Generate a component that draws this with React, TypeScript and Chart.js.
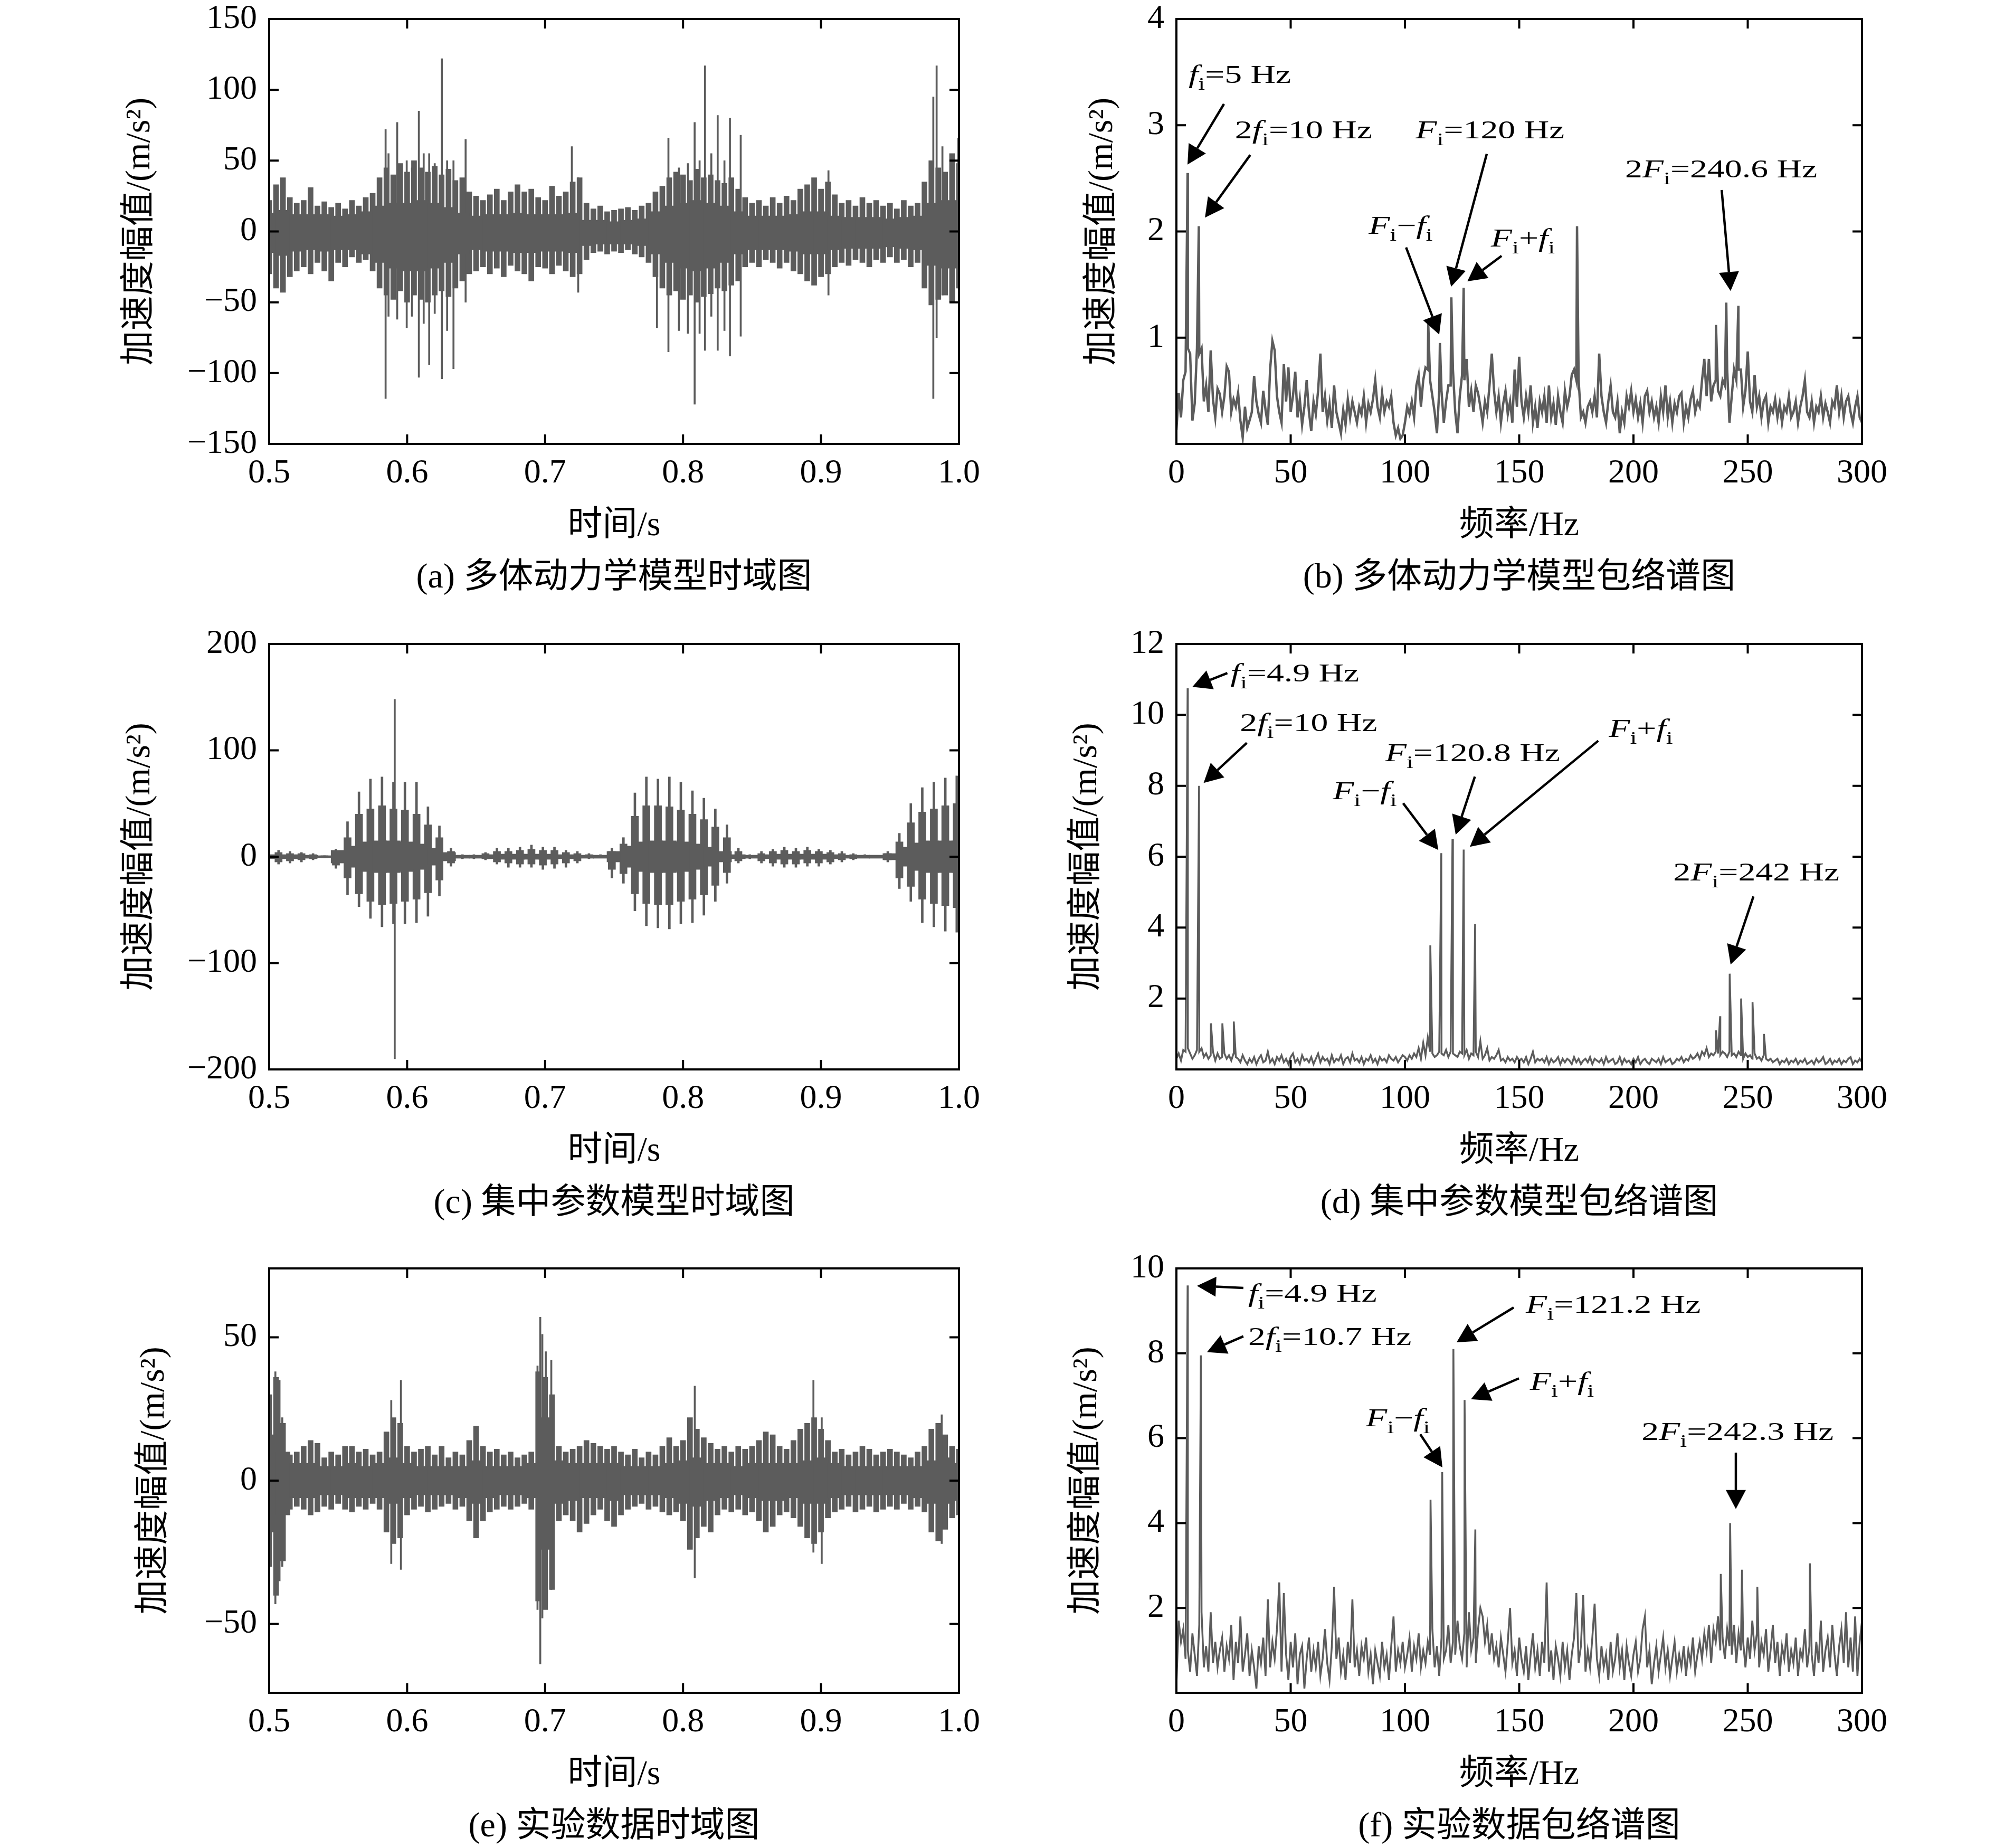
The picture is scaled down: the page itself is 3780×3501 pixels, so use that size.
import React, { useEffect, useRef } from 'react';
import { Chart, registerables } from 'chart.js';

Chart.register(...registerables);

const FONT = '"Liberation Serif", "Times New Roman", "Noto Sans CJK SC", serif';
const INK = '#000000';
const GRAY = '#5c5c5c';

const CELL_W = 1890;
const CELL_H = 1167;
const X_AXIS_H = 195;

// ---------------- tick label lists ----------------
const timeTicks = [0.5, 0.6, 0.7, 0.8, 0.9, 1.0];
const freqTicks = [0, 50, 100, 150, 200, 250, 300];
const aYTicks = [-150, -100, -50, 0, 50, 100, 150];
const bYTicks = [1, 2, 3, 4];
const cYTicks = [-200, -100, 0, 100, 200];
const dYTicks = [2, 4, 6, 8, 10, 12];
const eYTicks = [-50, 0, 50];
const fYTicks = [2, 4, 6, 8, 10];

// ---------------- sampling grids of the time envelopes ----------------
const ENV_T0 = 0.5;
const ENV_DT = 0.005;
const CORE_T0 = 0.5;
const CORE_DT = 0.01;

// ---------------- (a) multibody model, time domain ----------------
// outer envelope (column tops) every 5 ms
const aUpper = [
  22, 33, 38, 24, 20, 22, 31, 18, 21, 17,
  20, 16, 22, 18, 24, 27, 38, 45, 40, 48,
  42, 50, 45, 42, 46, 40, 44, 36, 38, 28,
  25, 22, 26, 30, 22, 28, 33, 28, 30, 24,
  22, 32, 25, 28, 35, 38, 20, 16, 18, 14,
  15, 16, 17, 15, 18, 20, 28, 32, 38, 42,
  40, 36, 44, 38, 40, 36, 34, 38, 30, 24,
  20, 22, 18, 24, 20, 25, 22, 30, 33, 38,
  30, 35, 26, 20, 22, 18, 24, 20, 22, 18,
  20, 16, 22, 18, 20, 35, 50, 45, 42, 55,
  48,
];
const aLower = [
  -30, -40, -43, -32, -28, -25, -30, -22, -28, -35,
  -22, -25, -18, -22, -20, -28, -40, -45, -48, -42,
  -50, -45, -48, -50, -45, -42, -46, -40, -35, -30,
  -28, -25, -30, -26, -32, -24, -28, -30, -35, -25,
  -26, -30, -24, -28, -32, -30, -20, -15, -14, -16,
  -14, -15, -13, -16, -18, -22, -32, -40, -45, -42,
  -48, -45, -50, -46, -44, -40, -42, -38, -35, -25,
  -22, -25, -20, -22, -26, -22, -28, -30, -35, -38,
  -32, -30, -25, -22, -24, -20, -22, -25, -20, -22,
  -18, -22, -20, -25, -22, -40, -52, -48, -45, -50,
  -40,
];
// dense solid core every 10 ms
const aCoreHi = [
  13, 15, 12, 12, 12, 11, 12, 14, 18, 20, 20, 22, 20, 17, 13, 11, 12, 12, 13, 12,
  12, 12, 13, 8, 8, 7, 8, 9, 14, 18, 20, 22, 20, 18, 14, 11, 11, 11, 12, 14,
  14, 11, 10, 10, 10, 9, 10, 11, 20, 22, 22,
];
const aCoreLo = [
  -15, -17, -14, -13, -14, -13, -13, -16, -22, -26, -28, -28, -26, -22, -16, -13, -14, -14, -15, -15,
  -14, -14, -15, -10, -9, -9, -9, -10, -16, -22, -26, -28, -26, -22, -16, -13, -13, -13, -14, -16,
  -16, -13, -12, -12, -12, -11, -12, -13, -24, -26, -26,
];
const aSpikeT = [
  0.5844, 0.5865, 0.5928, 0.5997, 0.6035, 0.6085, 0.612, 0.616, 0.62, 0.6252, 0.629, 0.6336, 0.6424,
  0.7194, 0.724, 0.7811, 0.7894, 0.797, 0.8035, 0.8084, 0.812, 0.8159, 0.8205, 0.8251, 0.83, 0.834,
  0.8418, 0.9054, 0.9814, 0.9838, 0.988, 0.995, 0.9995,
];
const aSpikeHi = [72, 55, 77, 50, 45, 85, 55, 55, 48, 122, 50, 50, 65, 60, 38, 26, 66, 45, 48, 77, 50, 117, 55, 82, 50, 80, 68, 43, 95, 117, 60, 48, 66];
const aSpikeLo = [-118, -60, -62, -68, -60, -103, -65, -94, -58, -104, -70, -97, -50, -30, -43, -68, -85, -70, -72, -122, -72, -84, -60, -84, -70, -88, -74, -45, -118, -75, -45, -40, -40];

// ---------------- (b) multibody model, envelope spectrum (1 Hz grid from 0 Hz) ----------------
const bNoise = [
  0.13, 0.48, 0.25, 0.6, 0.68, 0.9, 0.85, 0.22, 0.38, 0.9,
  0.85, 0.9, 0.4, 0.55, 0.3, 0.88, 0.42, 0.25, 0.52, 0.47,
  0.3, 0.45, 0.73, 0.68, 0.3, 0.42, 0.35, 0.48, 0.22, 0.06,
  0.35, 0.15, 0.22, 0.3, 0.64, 0.4, 0.28, 0.2, 0.5, 0.32,
  0.18, 0.7, 0.97, 0.88, 0.45, 0.3, 0.2, 0.75, 0.4, 0.72,
  0.3, 0.45, 0.68, 0.25, 0.42, 0.18, 0.35, 0.6, 0.3, 0.12,
  0.4, 0.28, 0.5, 0.85, 0.3, 0.45, 0.22, 0.38, 0.15, 0.55,
  0.3, 0.2, 0.1, 0.32, 0.18, 0.42, 0.25, 0.4, 0.3, 0.2,
  0.35, 0.28, 0.45, 0.2, 0.38, 0.3, 0.42, 0.6, 0.35, 0.25,
  0.48, 0.3, 0.4, 0.35, 0.45, 0.2, 0.08, 0.15, 0.05, 0.08,
  0.2, 0.35, 0.28, 0.4, 0.25, 0.55, 0.65, 0.35, 0.6, 0.72,
  0.7, 0.6, 0.45, 0.3, 0.1, 0.5, 0.5, 0.2, 0.4, 0.55,
  0.55, 0.7, 0.3, 0.1, 0.45, 0.65, 0.6, 0.8, 0.35, 0.5,
  0.3, 0.55, 0.48, 0.35, 0.2, 0.4, 0.3, 0.55, 0.85, 0.5,
  0.3, 0.45, 0.2, 0.38, 0.5, 0.28, 0.4, 0.2, 0.7, 0.35,
  0.82, 0.4, 0.25, 0.45, 0.3, 0.55, 0.2, 0.35, 0.15, 0.4,
  0.3, 0.45, 0.2, 0.55, 0.25, 0.38, 0.18, 0.45, 0.3, 0.2,
  0.5, 0.35, 0.45, 0.65, 0.7, 0.6, 0.6, 0.25, 0.3, 0.2,
  0.35, 0.4, 0.3, 0.45, 0.25, 0.85, 0.45, 0.3, 0.2, 0.4,
  0.55, 0.3, 0.25, 0.4, 0.1, 0.3, 0.2, 0.45, 0.35, 0.5,
  0.3, 0.42, 0.25, 0.38, 0.2, 0.45, 0.5, 0.3, 0.4, 0.25,
  0.35, 0.2, 0.45, 0.3, 0.55, 0.25, 0.4, 0.2, 0.38, 0.3,
  0.45, 0.48, 0.2, 0.35, 0.25, 0.42, 0.5, 0.3, 0.4, 0.35,
  0.6, 0.8, 0.45, 0.8, 0.4, 0.55, 0.6, 0.5, 0.45, 0.6,
  0.55, 0.7, 0.2, 0.45, 0.7, 0.6, 0.7, 0.7, 0.35, 0.5,
  0.87, 0.4, 0.3, 0.65, 0.35, 0.45, 0.25, 0.4, 0.45, 0.2,
  0.35, 0.3, 0.42, 0.25, 0.38, 0.2, 0.35, 0.3, 0.45, 0.25,
  0.3, 0.4, 0.2, 0.35, 0.45, 0.6, 0.3, 0.25, 0.4, 0.2,
  0.35, 0.3, 0.45, 0.25, 0.38, 0.3, 0.2, 0.4, 0.35, 0.55,
  0.3, 0.45, 0.25, 0.4, 0.45, 0.3, 0.2, 0.35, 0.45, 0.25,
  0.2,
];
const bPeakHz = [4.9, 9.8, 110.2, 115.3, 120.3, 125.7, 175.3, 236.1, 240.6, 245.9];
const bPeakAmp = [2.55, 2.05, 1.13, 0.95, 1.38, 1.47, 2.05, 1.12, 1.33, 1.3];

// ---------------- (c) lumped-parameter model, time domain ----------------
const cImpT = [
  0.5068, 0.5151, 0.5234, 0.5318, 0.5401, 0.5484, 0.5568, 0.5651, 0.5734, 0.5818, 0.5901, 0.5984,
  0.6068, 0.6151, 0.6234, 0.6318, 0.6401, 0.6484, 0.6568, 0.6651, 0.6734, 0.6818, 0.6901, 0.6984,
  0.7068, 0.7151, 0.7234, 0.7318, 0.7401, 0.7484, 0.7568, 0.7651, 0.7734, 0.7818, 0.7901, 0.7984,
  0.8068, 0.8151, 0.8234, 0.8318, 0.8401, 0.8484, 0.8568, 0.8651, 0.8734, 0.8818, 0.8901, 0.8984,
  0.9068, 0.9151, 0.9234, 0.9318, 0.9401, 0.9484, 0.9568, 0.9651, 0.9734, 0.9818, 0.9901, 0.9984,
];
const cImpHi = [
  6, 5, 4, 3, 1, 7, 33, 61, 73, 75, 70, 70,
  70, 47, 29, 8, 2, 2, 4, 8, 8, 9, 11, 9,
  9, 6, 5, 3, 2, 8, 18, 60, 75, 73, 75, 70,
  62, 55, 45, 30, 8, 2, 5, 7, 9, 8, 9, 7,
  6, 5, 3, 2, 1, 5, 22, 50, 65, 70, 74, 76,
];
const cImpLo = [
  -7, -6, -5, -3, -1, -11, -36, -47, -58, -66, -63, -63,
  -62, -56, -37, -9, -2, -2, -3, -7, -10, -10, -10, -12,
  -11, -10, -6, -2, -1, -20, -25, -51, -65, -67, -68, -63,
  -62, -55, -42, -25, -6, -2, -6, -9, -10, -10, -9, -9,
  -7, -5, -3, -1, -1, -5, -30, -42, -62, -66, -70, -71,
];
const cBodyHi = [
  4, 3, 3, 2, 1, 5, 18, 40, 45, 48, 45, 44,
  40, 30, 18, 5, 1, 1, 3, 5, 5, 6, 7, 6,
  6, 4, 3, 2, 1, 5, 12, 38, 48, 48, 47, 44,
  40, 35, 28, 18, 5, 1, 3, 5, 6, 5, 6, 5,
  4, 3, 2, 1, 1, 3, 14, 32, 42, 45, 48, 50,
];
const cBodyLo = [
  -5, -4, -3, -2, -1, -8, -20, -35, -42, -45, -44, -42,
  -40, -34, -22, -6, -1, -1, -2, -5, -6, -7, -7, -8,
  -7, -6, -4, -1, -1, -12, -16, -35, -44, -45, -45, -42,
  -40, -36, -27, -15, -4, -1, -4, -6, -7, -7, -6, -6,
  -5, -3, -2, -1, -1, -3, -20, -28, -40, -44, -46, -48,
];
const cCoreHi = [
  2, 2, 2, 1.5, 1, 6, 10, 14, 15, 15, 14, 12, 8, 4, 1.5, 1.5, 2, 2.5, 2.5, 2.5,
  2.5, 2, 2, 1.5, 1.5, 5, 10, 14, 15, 15, 14, 12, 9, 5, 2, 1.5, 2, 2.5, 2.5, 2.5,
  2.5, 2, 1.5, 1.5, 1.5, 3, 9, 13, 15, 15, 15,
];
const cCoreLo = [
  -2, -2, -2, -1.5, -1, -6, -10, -14, -15, -15, -14, -12, -8, -4, -1.5, -1.5, -2, -2.5, -2.5, -2.5,
  -2.5, -2, -2, -1.5, -1.5, -5, -10, -14, -15, -15, -14, -12, -9, -5, -2, -1.5, -2, -2.5, -2.5, -2.5,
  -2.5, -2, -1.5, -1.5, -1.5, -3, -9, -13, -15, -15, -15,
];
const cSpikeT = [0.591];
const cSpikeHi = [148];
const cSpikeLo = [-190];

// ---------------- (d) lumped-parameter model, envelope spectrum ----------------
const dNoise = [
  0.3, 0.45, 0.25, 0.55, 0.5, 0.6, 0.45, 0.3, 0.4, 0.55,
  0.5, 0.6, 0.35, 0.45, 0.3, 0.4, 0.5, 0.25, 0.45, 0.3,
  0.35, 0.45, 0.3, 0.4, 0.25, 0.45, 0.35, 0.3, 0.2, 0.4,
  0.25, 0.15, 0.3, 0.2, 0.35, 0.15, 0.3, 0.4, 0.2, 0.25,
  0.5, 0.2, 0.3, 0.15, 0.35, 0.25, 0.4, 0.2, 0.3, 0.15,
  0.35, 0.45, 0.2, 0.3, 0.15, 0.4, 0.25, 0.3, 0.2, 0.35,
  0.15, 0.3, 0.45, 0.2, 0.35, 0.25, 0.3, 0.15, 0.4, 0.2,
  0.3, 0.25, 0.4, 0.15, 0.3, 0.35, 0.2, 0.45, 0.25, 0.3,
  0.2, 0.35, 0.15, 0.3, 0.25, 0.4, 0.2, 0.3, 0.15, 0.35,
  0.25, 0.3, 0.2, 0.4, 0.3, 0.25, 0.35, 0.2, 0.3, 0.4,
  0.35, 0.25, 0.4, 0.3, 0.45, 0.35, 0.6, 0.3, 0.75, 0.4,
  0.9, 0.5, 0.45, 0.35, 0.4, 0.5, 0.45, 0.4, 0.55, 0.35,
  0.5, 0.45, 0.4, 0.35, 0.5, 0.45, 0.4, 0.55, 0.3, 0.45,
  0.4, 0.5, 0.35, 0.8, 0.3, 0.4, 0.6, 0.25, 0.35, 0.3,
  0.4, 0.55, 0.25, 0.3, 0.2, 0.35, 0.25, 0.3, 0.2, 0.35,
  0.25, 0.3, 0.2, 0.35, 0.15, 0.3, 0.5, 0.2, 0.3, 0.25,
  0.3, 0.2, 0.35, 0.15, 0.3, 0.2, 0.25, 0.35, 0.15, 0.3,
  0.2, 0.3, 0.25, 0.15, 0.35, 0.2, 0.3, 0.15, 0.25, 0.3,
  0.2, 0.35, 0.15, 0.3, 0.25, 0.2, 0.3, 0.15, 0.35, 0.2,
  0.25, 0.3, 0.15, 0.2, 0.35, 0.15, 0.3, 0.2, 0.25, 0.15,
  0.3, 0.2, 0.35, 0.15, 0.25, 0.3, 0.2, 0.15, 0.3, 0.25,
  0.2, 0.3, 0.15, 0.35, 0.2, 0.25, 0.3, 0.15, 0.2, 0.3,
  0.25, 0.35, 0.2, 0.3, 0.25, 0.4, 0.3, 0.35, 0.45, 0.3,
  0.5, 0.4, 0.6, 0.35, 0.45, 0.4, 0.5, 0.45, 0.4, 0.5,
  0.45, 0.35, 0.5, 0.4, 0.45, 0.35, 0.5, 0.4, 0.3, 0.45,
  0.35, 0.4, 0.3, 0.45, 0.3, 0.35, 0.25, 0.4, 0.3, 0.25,
  0.3, 0.2, 0.25, 0.3, 0.15, 0.25, 0.2, 0.3, 0.15, 0.25,
  0.2, 0.3, 0.15, 0.25, 0.2, 0.3, 0.15, 0.2, 0.25, 0.15,
  0.3, 0.2, 0.25, 0.35, 0.15, 0.2, 0.3, 0.15, 0.25, 0.2,
  0.3, 0.15, 0.25, 0.2, 0.3, 0.35, 0.15, 0.25, 0.2, 0.3,
  0.2,
];
const dPeakHz = [4.9, 9.9, 15.1, 20.1, 25.1, 111.1, 115.9, 120.8, 125.7, 130.7, 236.1, 237.9, 242.1, 247.1, 252.1, 257.1];
const dPeakAmp = [10.75, 8.0, 1.3, 1.3, 1.35, 3.5, 6.1, 6.5, 6.2, 4.1, 1.1, 1.5, 2.7, 2.0, 1.9, 1.0];

// ---------------- (e) experiment, time domain ----------------
const eUpper = [
  30, 36, 20, 9, 10, 12, 14, 13, 8, 10,
  9, 12, 12, 10, 11, 9, 10, 17, 22, 20,
  12, 10, 11, 12, 9, 12, 8, 10, 9, 14,
  19, 12, 10, 11, 9, 10, 8, 9, 10, 38,
  36, 30, 12, 10, 11, 12, 14, 13, 12, 11,
  12, 10, 9, 11, 8, 10, 9, 12, 15, 12,
  14, 22, 18, 15, 13, 11, 12, 10, 12, 11,
  12, 14, 17, 16, 12, 11, 14, 18, 20, 22,
  18, 14, 10, 11, 9, 10, 12, 11, 9, 10,
  11, 10, 9, 8, 10, 12, 18, 20, 16, 12,
  11,
];
const eLower = [
  -30, -40, -28, -10, -9, -10, -12, -11, -9, -10,
  -8, -10, -11, -9, -10, -8, -10, -18, -22, -20,
  -12, -10, -9, -11, -10, -9, -8, -10, -9, -14,
  -20, -14, -11, -10, -9, -10, -9, -8, -10, -42,
  -45, -38, -14, -12, -14, -18, -15, -12, -10, -14,
  -16, -12, -10, -9, -8, -10, -9, -11, -12, -11,
  -14, -24, -20, -16, -18, -12, -10, -11, -10, -12,
  -11, -14, -18, -16, -12, -11, -13, -16, -20, -22,
  -18, -13, -11, -10, -9, -11, -10, -9, -11, -10,
  -9, -10, -8, -10, -9, -11, -18, -21, -17, -13,
  -12,
];
const eCoreHi = [
  16, 10, 6, 6, 5, 5, 6, 5, 6, 8, 6, 5, 5, 5, 5, 7, 5, 5, 5, 6,
  22, 7, 6, 6, 6, 6, 5, 5, 5, 6, 7, 8, 6, 6, 5, 6, 6, 6, 6, 7,
  8, 6, 5, 5, 5, 5, 5, 5, 7, 8, 6,
];
const eCoreLo = [
  -18, -12, -6, -6, -5, -5, -6, -6, -6, -8, -6, -5, -5, -5, -6, -8, -6, -5, -5, -6,
  -24, -8, -7, -6, -6, -7, -5, -5, -5, -6, -8, -9, -7, -6, -5, -6, -7, -7, -6, -8,
  -8, -6, -5, -5, -5, -5, -5, -6, -8, -8, -7,
];
const eSpikeT = [0.5045, 0.5075, 0.5095, 0.5885, 0.5955, 0.6495, 0.6945, 0.6965, 0.698, 0.7005, 0.7045, 0.8085, 0.8945, 0.9005, 0.9875];
const eSpikeHi = [38, 35, 22, 28, 35, 18, 40, 57, 51, 45, 42, 33, 35, 22, 23];
const eSpikeLo = [-43, -35, -30, -29, -31, -20, -45, -64, -48, -40, -38, -34, -25, -29, -22];

// ---------------- (f) experiment, envelope spectrum ----------------
const fNoise = [
  0.2, 1.7, 1.2, 1.5, 0.8, 1.0, 0.5, 1.4, 0.9, 0.4,
  1.6, 1.9, 0.6, 1.1, 0.5, 1.9, 0.7, 1.2, 0.6, 1.0,
  1.3, 0.5, 1.1, 0.8, 1.6, 0.3, 1.2, 0.7, 1.8, 0.5,
  0.9, 1.4, 0.4, 1.0, 0.6, 0.1, 1.1, 0.7, 1.3, 0.4,
  2.2, 0.6, 1.2, 0.8, 1.5, 2.6, 0.5, 2.35, 0.9, 0.3,
  1.2, 0.6, 1.4, 0.2, 0.9, 1.1, 0.1, 0.8, 1.3, 0.5,
  1.0, 0.6, 1.2, 0.4, 0.8, 1.5, 0.7, 0.3, 1.1, 2.5,
  0.8, 1.3, 0.5, 0.9, 0.3, 1.2, 0.7, 2.2, 0.6, 1.0,
  0.4, 1.1, 0.8, 1.3, 0.5, 0.9, 0.2, 1.0, 0.7, 0.4,
  1.2, 0.6, 0.9, 0.3, 1.1, 1.8, 0.5, 1.0, 0.7, 1.2,
  0.6, 0.9, 1.3, 0.5, 1.1, 0.8, 1.4, 0.6, 1.0, 0.7,
  1.2, 0.9, 1.5, 0.6, 1.1, 0.4, 1.3, 0.8, 1.0, 1.6,
  0.7, 1.2, 0.9, 1.7, 1.1, 0.8, 1.4, 0.6, 1.9, 1.0,
  1.3, 0.7, 1.5, 2.0, 1.8, 1.2, 1.6, 0.9, 1.4, 0.8,
  1.1, 0.6, 1.3, 0.9, 0.5, 1.2, 2.0, 0.7, 1.0, 0.4,
  1.3, 0.8, 0.5, 1.1, 0.3, 0.9, 1.4, 0.6, 1.0, 0.4,
  1.2, 0.7, 2.6, 0.5, 1.0, 0.3, 1.1, 0.8, 0.4, 1.2,
  0.6, 1.0, 0.3, 0.9, 1.3, 2.35, 0.7, 1.1, 2.3, 0.5,
  1.0, 0.6, 1.3, 2.1, 0.8, 0.4, 1.1, 0.6, 0.9, 0.3,
  1.2, 0.5, 0.8, 1.4, 0.6, 1.0, 0.3, 1.1, 0.7, 0.4,
  0.9, 1.2, 0.5, 0.8, 1.5, 1.8, 0.6, 1.0, 0.2, 0.7,
  1.1, 0.5, 0.9, 1.3, 0.6, 1.0, 0.4, 0.8, 1.2, 0.5,
  0.9, 0.6, 1.1, 0.4, 1.0, 0.7, 1.3, 0.5, 0.9, 1.2,
  0.8, 1.4, 1.0, 1.6, 0.7, 1.5, 1.2, 1.8, 1.0, 1.3,
  0.8, 1.5, 1.1, 0.9, 1.6, 0.7, 1.4, 1.0, 1.2, 0.6,
  1.3, 0.8, 1.7, 1.0, 1.4, 0.6, 1.2, 0.9, 1.5, 0.5,
  1.0, 1.6, 0.7, 1.2, 0.4, 1.1, 0.8, 1.4, 0.5, 1.0,
  0.7, 1.3, 0.4, 1.0, 0.8, 1.5, 0.6, 1.1, 0.9, 0.4,
  1.2, 0.7, 1.7, 0.5, 1.0, 1.3, 0.6, 1.6, 0.9, 0.4,
  1.1, 1.5, 0.7, 1.9, 0.6, 1.3, 0.5, 1.8, 0.4, 1.2,
  1.7,
];
const fPeakHz = [4.9, 10.7, 111.2, 116.3, 121.2, 126.1, 130.8, 238.2, 242.3, 247.5, 254.2, 277.2];
const fPeakAmp = [9.6, 7.95, 4.55, 5.2, 8.1, 6.9, 3.85, 2.8, 4.0, 2.9, 2.5, 3.05];

// ---------------- annotations (placed in data coordinates) ----------------
type Anno = { label: string; at: [number, number]; from: [number, number]; to: [number, number] };

const bAnnos: Anno[] = [
  { label: '$f$_i=5 Hz', at: [5.3, 3.4], from: [20.8, 3.2], to: [4.85, 2.63] },
  { label: '2$f$_i=10 Hz', at: [25.6, 2.876], from: [32.3, 2.72], to: [12.5, 2.13] },
  { label: '$F$_i=120 Hz', at: [104.7, 2.875], from: [135.8, 2.73], to: [120.2, 1.48] },
  { label: '$F$_i\u2212$f$_i', at: [84.1, 1.98], from: [100.5, 1.85], to: [115.0, 1.03] },
  { label: '$F$_i+$f$_i', at: [137.6, 1.86], from: [142.3, 1.77], to: [127.3, 1.53] },
  { label: '2$F$_i=240.6 Hz', at: [196.3, 2.51], from: [238.6, 2.39], to: [242.5, 1.44] },
];
const dAnnos: Anno[] = [
  { label: '$f$_i=4.9 Hz', at: [23.7, 10.95], from: [22.3, 11.18], to: [7.0, 10.79] },
  { label: '2$f$_i=10 Hz', at: [27.8, 9.55], from: [30.8, 9.21], to: [11.9, 8.08] },
  { label: '$F$_i=120.8 Hz', at: [91.4, 8.7], from: [130.6, 8.26], to: [122.2, 6.62] },
  { label: '$F$_i\u2212$f$_i', at: [68.4, 7.63], from: [99.2, 7.51], to: [114.6, 6.19] },
  { label: '$F$_i+$f$_i', at: [189.2, 9.38], from: [184.6, 9.27], to: [128.4, 6.28] },
  { label: '2$F$_i=242 Hz', at: [217.4, 5.33], from: [252.5, 4.88], to: [242.5, 2.96] },
];
const fAnnos: Anno[] = [
  { label: '$f$_i=4.9 Hz', at: [31.4, 9.22], from: [29.3, 9.54], to: [9.0, 9.59] },
  { label: '2$f$_i=10.7 Hz', at: [31.4, 8.2], from: [29.3, 8.4], to: [13.4, 8.03] },
  { label: '$F$_i=121.2 Hz', at: [152.9, 8.95], from: [147.6, 9.08], to: [122.6, 8.26] },
  { label: '$F$_i+$f$_i', at: [154.7, 7.14], from: [149.9, 7.41], to: [128.9, 6.92] },
  { label: '$F$_i\u2212$f$_i', at: [82.9, 6.28], from: [106.7, 6.09], to: [116.4, 5.31] },
  { label: '2$F$_i=242.3 Hz', at: [203.5, 5.96], from: [244.8, 5.66], to: [244.8, 4.33] },
];

// ---------------- helpers building datasets from the arrays ----------------
function gridBars(t0: number, dt: number, hi: number[], lo: number[]) {
  return hi.map((h, i) => ({ x: t0 + i * dt, y: [lo[i], h] }));
}
function listBars(ts: number[], hi: number[], lo: number[]) {
  return ts.map((t, i) => ({ x: t, y: [lo[i], hi[i]] }));
}
function spectrumPoints(noise: number[], peakHz: number[], peakAmp: number[]) {
  const pts = noise.map((v, i) => ({ x: i, y: v }));
  peakHz.forEach((f, k) => pts.push({ x: f, y: peakAmp[k] }));
  pts.sort((p, q) => p.x - q.x);
  return pts;
}
function barSet(data: any[], thickness: number) {
  return { type: 'bar', data, backgroundColor: GRAY, borderWidth: 0, barThickness: thickness, grouped: false };
}
function lineSet(data: any[], width: number) {
  return { type: 'line', data, borderColor: GRAY, borderWidth: width, pointRadius: 0, tension: 0, fill: false, borderJoinStyle: 'miter' };
}

// ---------------- drawing plugins ----------------
function drawRich(ctx: CanvasRenderingContext2D, s: string, x: number, y: number) {
  const size = 48;
  const sub = 34;
  ctx.save();
  ctx.translate(x, y);
  ctx.scale(1.37, 1);
  ctx.fillStyle = INK;
  ctx.textBaseline = 'alphabetic';
  ctx.textAlign = 'left';
  let cx = 0;
  let italic = false;
  for (let i = 0; i < s.length; i++) {
    const ch = s[i];
    if (ch === '$') { italic = !italic; continue; }
    if (ch === '_') {
      const c = s[++i];
      ctx.font = `${sub}px ${FONT}`;
      ctx.fillText(c, cx, 13);
      cx += ctx.measureText(c).width;
      continue;
    }
    ctx.font = `${italic ? 'italic ' : ''}${size}px ${FONT}`;
    ctx.fillText(ch, cx, 0);
    cx += ctx.measureText(ch).width;
  }
  ctx.restore();
}

function drawArrow(ctx: CanvasRenderingContext2D, x1: number, y1: number, x2: number, y2: number) {
  const ang = Math.atan2(y2 - y1, x2 - x1);
  const L = 36;
  const W = 19;
  const bx = x2 - L * Math.cos(ang);
  const by = y2 - L * Math.sin(ang);
  ctx.lineWidth = 4.5;
  ctx.beginPath();
  ctx.moveTo(x1, y1);
  ctx.lineTo(bx, by);
  ctx.stroke();
  ctx.beginPath();
  ctx.moveTo(x2, y2);
  ctx.lineTo(bx + W * Math.sin(ang), by - W * Math.cos(ang));
  ctx.lineTo(bx - W * Math.sin(ang), by + W * Math.cos(ang));
  ctx.closePath();
  ctx.fill();
}

const frameTicksPlugin = {
  id: 'frameTicks',
  afterDatasetsDraw(chart: any) {
    const { ctx, chartArea: a } = chart;
    const xs = chart.scales.x;
    const ys = chart.scales.y;
    const L = 18;
    ctx.save();
    ctx.strokeStyle = INK;
    ctx.lineWidth = 4;
    ctx.beginPath();
    xs.ticks.forEach((t: any) => {
      const p = xs.getPixelForValue(t.value);
      ctx.moveTo(p, a.bottom); ctx.lineTo(p, a.bottom - L);
      ctx.moveTo(p, a.top); ctx.lineTo(p, a.top + L);
    });
    ys.ticks.forEach((t: any) => {
      const p = ys.getPixelForValue(t.value);
      ctx.moveTo(a.left, p); ctx.lineTo(a.left + L, p);
      ctx.moveTo(a.right, p); ctx.lineTo(a.right - L, p);
    });
    ctx.stroke();
    ctx.strokeRect(a.left, a.top, a.right - a.left, a.bottom - a.top);
    ctx.restore();
  },
};

const annoPlugin = {
  id: 'annos',
  afterDraw(chart: any, _args: any, opts: any) {
    const items: Anno[] = (opts && opts.items) || [];
    if (!items.length) return;
    const { ctx } = chart;
    const xs = chart.scales.x;
    const ys = chart.scales.y;
    ctx.save();
    ctx.strokeStyle = INK;
    ctx.fillStyle = INK;
    items.forEach((it) => {
      drawArrow(ctx, xs.getPixelForValue(it.from[0]), ys.getPixelForValue(it.from[1]), xs.getPixelForValue(it.to[0]), ys.getPixelForValue(it.to[1]));
      drawRich(ctx, it.label, xs.getPixelForValue(it.at[0]), ys.getPixelForValue(it.at[1]));
    });
    ctx.restore();
  },
};

const captionPlugin = {
  id: 'caption',
  afterDraw(chart: any, _args: any, opts: any) {
    if (!opts || !opts.text) return;
    const { ctx, chartArea: a } = chart;
    ctx.save();
    ctx.fillStyle = INK;
    ctx.font = `66px ${FONT}`;
    ctx.textAlign = 'center';
    ctx.textBaseline = 'middle';
    ctx.fillText(opts.text, (a.left + a.right) / 2, a.bottom + 255);
    ctx.restore();
  },
};

// ---------------- config builder ----------------
type Geo = { plotL: number; plotR: number; plotT: number; plotB: number; yTitleCenter: number };

function minusFmt(v: number) {
  return String(v).replace('-', '\u2212');
}

function makeConfig(o: {
  geo: Geo; datasets: any[]; xMin: number; xMax: number; xTicks: number[]; xFmt: (v: number) => string;
  xTitle: string; yMin: number; yMax: number; yTicks: number[]; caption: string; annos: Anno[];
}) {
  const g = o.geo;
  return {
    type: 'line',
    data: { datasets: o.datasets },
    options: {
      responsive: false,
      animation: false,
      events: [],
      layout: { padding: { left: 0, top: g.plotT, right: CELL_W - g.plotR, bottom: CELL_H - g.plotB - X_AXIS_H } },
      plugins: {
        legend: { display: false },
        tooltip: { enabled: false },
        title: { display: false },
        annos: { items: o.annos },
        caption: { text: o.caption },
      },
      scales: {
        x: {
          type: 'linear',
          min: o.xMin,
          max: o.xMax,
          offset: false,
          grid: { display: false, drawTicks: false },
          border: { display: false },
          afterBuildTicks: (s: any) => { s.ticks = o.xTicks.map((v) => ({ value: v })); },
          afterFit: (s: any) => { s.height = X_AXIS_H; s.paddingLeft = 0; s.paddingRight = 0; },
          ticks: {
            color: INK, font: { family: FONT, size: 64 }, padding: 18, maxRotation: 0, minRotation: 0, autoSkip: false,
            callback: (v: any) => o.xFmt(Number(v)),
          },
          title: { display: true, text: o.xTitle, color: INK, font: { family: FONT, size: 66 }, padding: { top: 0, bottom: 0 } },
        },
        y: {
          type: 'linear',
          min: o.yMin,
          max: o.yMax,
          grid: { display: false, drawTicks: false },
          border: { display: false },
          afterBuildTicks: (s: any) => { s.ticks = o.yTicks.map((v) => ({ value: v })); },
          afterFit: (s: any) => { s.width = g.plotL; s.paddingTop = 0; s.paddingBottom = 0; },
          ticks: { color: INK, font: { family: FONT, size: 64 }, padding: 23, autoSkip: false, callback: (v: any) => minusFmt(Number(v)) },
          title: {
            display: true, text: '加速度幅值/(m/s²)', color: INK, font: { family: FONT, size: 66 },
            padding: { top: g.yTitleCenter - 39.6, bottom: 0 },
          },
        },
      },
    },
    plugins: [frameTicksPlugin, annoPlugin, captionPlugin],
  };
}

const timeFmt = (v: number) => v.toFixed(1);
const freqFmt = (v: number) => String(Math.round(v));

const PANELS = [
  {
    id: 'a', col: 0, row: 0,
    make: () => makeConfig({
      geo: { plotL: 510, plotR: 1817, plotT: 36, plotB: 841, yTitleCenter: 266 },
      datasets: [
        barSet(gridBars(CORE_T0, CORE_DT, aCoreHi, aCoreLo), 27),
        barSet(gridBars(ENV_T0, ENV_DT, aUpper, aLower), 10),
        barSet(listBars(aSpikeT, aSpikeHi, aSpikeLo), 3),
      ],
      xMin: 0.5, xMax: 1.0, xTicks: timeTicks, xFmt: timeFmt, xTitle: '时间/s',
      yMin: -150, yMax: 150, yTicks: aYTicks, caption: '(a) 多体动力学模型时域图', annos: [],
    }),
  },
  {
    id: 'b', col: 1, row: 0,
    make: () => makeConfig({
      geo: { plotL: 339, plotR: 1638, plotT: 36, plotB: 841, yTitleCenter: 200 },
      datasets: [lineSet(spectrumPoints(bNoise, bPeakHz, bPeakAmp), 4.5)],
      xMin: 0, xMax: 300, xTicks: freqTicks, xFmt: freqFmt, xTitle: '频率/Hz',
      yMin: 0, yMax: 4, yTicks: bYTicks, caption: '(b) 多体动力学模型包络谱图', annos: bAnnos,
    }),
  },
  {
    id: 'c', col: 0, row: 1,
    make: () => makeConfig({
      geo: { plotL: 510, plotR: 1817, plotT: 53, plotB: 859, yTitleCenter: 266 },
      datasets: [
        barSet(gridBars(CORE_T0, CORE_DT, cCoreHi, cCoreLo), 27),
        barSet(listBars(cImpT, cBodyHi, cBodyLo), 14),
        barSet(listBars(cImpT, cImpHi, cImpLo), 4),
        barSet(listBars(cSpikeT, cSpikeHi, cSpikeLo), 3),
      ],
      xMin: 0.5, xMax: 1.0, xTicks: timeTicks, xFmt: timeFmt, xTitle: '时间/s',
      yMin: -200, yMax: 200, yTicks: cYTicks, caption: '(c) 集中参数模型时域图', annos: [],
    }),
  },
  {
    id: 'd', col: 1, row: 1,
    make: () => makeConfig({
      geo: { plotL: 339, plotR: 1638, plotT: 53, plotB: 859, yTitleCenter: 170 },
      datasets: [lineSet(spectrumPoints(dNoise, dPeakHz, dPeakAmp), 3.5)],
      xMin: 0, xMax: 300, xTicks: freqTicks, xFmt: freqFmt, xTitle: '频率/Hz',
      yMin: 0, yMax: 12, yTicks: dYTicks, caption: '(d) 集中参数模型包络谱图', annos: dAnnos,
    }),
  },
  {
    id: 'e', col: 0, row: 2,
    make: () => makeConfig({
      geo: { plotL: 510, plotR: 1817, plotT: 69, plotB: 873, yTitleCenter: 293 },
      datasets: [
        barSet(gridBars(CORE_T0, CORE_DT, eCoreHi, eCoreLo), 27),
        barSet(gridBars(ENV_T0, ENV_DT, eUpper, eLower), 10),
        barSet(listBars(eSpikeT, eSpikeHi, eSpikeLo), 3),
      ],
      xMin: 0.5, xMax: 1.0, xTicks: timeTicks, xFmt: timeFmt, xTitle: '时间/s',
      yMin: -74, yMax: 74, yTicks: eYTicks, caption: '(e) 实验数据时域图', annos: [],
    }),
  },
  {
    id: 'f', col: 1, row: 2,
    make: () => makeConfig({
      geo: { plotL: 339, plotR: 1638, plotT: 69, plotB: 873, yTitleCenter: 170 },
      datasets: [lineSet(spectrumPoints(fNoise, fPeakHz, fPeakAmp), 3.5)],
      xMin: 0, xMax: 300, xTicks: freqTicks, xFmt: freqFmt, xTitle: '频率/Hz',
      yMin: 0, yMax: 10, yTicks: fYTicks, caption: '(f) 实验数据包络谱图', annos: fAnnos,
    }),
  },
];

function ChartCanvas({ left, top, make }: { left: number; top: number; make: () => any }) {
  const ref = useRef<HTMLCanvasElement>(null);
  useEffect(() => {
    if (!ref.current) return;
    const chart = new Chart(ref.current, make());
    return () => chart.destroy();
  }, [make]);
  return (
    <canvas
      ref={ref}
      width={CELL_W}
      height={CELL_H}
      style={{ position: 'absolute', left, top, width: CELL_W, height: CELL_H, display: 'block' }}
    />
  );
}

export default function App() {
  return (
    <div style={{ position: 'absolute', left: 0, top: 0, width: 3780, height: 3501, background: '#ffffff', overflow: 'hidden' }}>
      {PANELS.map((p) => (
        <ChartCanvas key={p.id} left={p.col * CELL_W} top={p.row * CELL_H} make={p.make} />
      ))}
    </div>
  );
}
